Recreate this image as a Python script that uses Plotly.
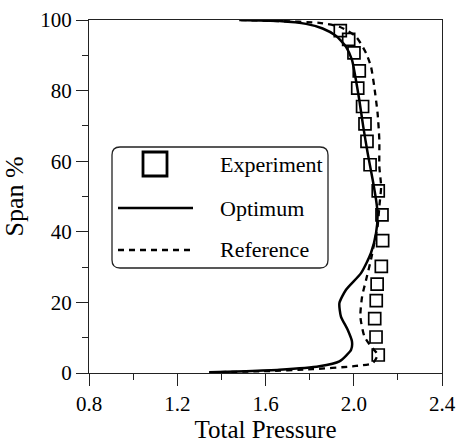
import plotly.graph_objects as go

# Experiment data (total pressure, span %)
exp_p = [1.939, 1.977, 2.001, 2.025, 2.018, 2.040, 2.051, 2.060, 2.074, 2.111,
         2.128, 2.131, 2.125, 2.106, 2.102, 2.095, 2.101, 2.111]
exp_span = [97.0, 94.5, 90.7, 85.6, 80.7, 75.5, 70.6, 65.6, 59.0, 51.6,
            44.8, 37.5, 30.2, 25.2, 20.5, 15.4, 10.2, 5.1]

# Optimum (solid)
opt_p = [1.345, 1.512, 1.663, 1.844, 1.935, 1.988, 1.992, 1.972, 1.942, 1.935,
         1.965, 2.033, 2.078, 2.101, 2.108, 2.101, 2.086, 2.063, 2.043, 2.025,
         2.007, 1.992, 1.965, 1.920, 1.859, 1.784, 1.663, 1.481]
opt_span = [0.2, 0.5, 0.9, 1.9, 3.3, 6.6, 8.9, 12.3, 16.0, 19.8,
            23.6, 28.3, 34.0, 39.6, 45.3, 49.1, 54.7, 62.3, 69.8, 77.4,
            84.0, 88.7, 92.4, 95.5, 97.6, 98.9, 99.7, 100.0]

# Reference (dashed)
ref_p = [1.345, 1.587, 1.814, 1.995, 2.086, 2.108, 2.078, 2.048, 2.030, 2.038,
         2.056, 2.078, 2.093, 2.108, 2.116, 2.124, 2.116, 2.116, 2.108, 2.093,
         2.078, 2.056, 2.010, 1.935, 1.844, 1.660, 1.490]
ref_span = [0.2, 0.5, 1.1, 1.9, 2.8, 5.2, 7.5, 10.4, 16.0, 21.7,
            26.4, 32.1, 36.8, 41.5, 47.2, 52.8, 58.5, 66.0, 73.6, 81.1,
            86.8, 90.6, 95.3, 98.1, 99.2, 99.7, 100.0]

x_ticks = [0.8, 1.2, 1.6, 2.0, 2.4]
y_ticks = [0, 20, 40, 60, 80, 100]
legend_labels = ["Experiment", "Optimum", "Reference"]

FONT = "'Liberation Serif', 'Times New Roman', serif"

fig = go.Figure()
fig.add_trace(go.Scatter(x=opt_p, y=opt_span, mode="lines", name="Optimum",
                         line=dict(color="black", width=2.5, shape="spline", smoothing=0.6),
                         showlegend=False))
fig.add_trace(go.Scatter(x=ref_p, y=ref_span, mode="lines", name="Reference",
                         line=dict(color="black", width=2.3, dash="6px,5px", shape="spline", smoothing=0.6),
                         showlegend=False))
fig.add_trace(go.Scatter(x=exp_p, y=exp_span, mode="markers", name="Experiment",
                         marker=dict(symbol="square-open", size=12, color="black",
                                     line=dict(width=1.7, color="black")),
                         showlegend=False))

# manual legend (rounded box), paper coordinates (plot area is square)
PW = 353.0
def px(xp):
    return (xp - 89) / PW
def py(yp):
    return (373 - yp) / PW

x0, x1, yt, yb = px(112), px(328), py(147), py(268)
r = 8 / PW
path = (f"M {x0 + r},{yt} L {x1 - r},{yt} Q {x1},{yt} {x1},{yt - r} "
        f"L {x1},{yb + r} Q {x1},{yb} {x1 - r},{yb} "
        f"L {x0 + r},{yb} Q {x0},{yb} {x0},{yb + r} "
        f"L {x0},{yt - r} Q {x0},{yt} {x0 + r},{yt} Z")
shapes = [
    dict(type="path", xref="paper", yref="paper", path=path,
         line=dict(color="#222", width=1.3), fillcolor="white", layer="above"),
    dict(type="rect", xref="paper", yref="paper",
         x0=px(143), x1=px(167), y0=py(176), y1=py(152),
         line=dict(color="black", width=2.8), layer="above"),
    dict(type="line", xref="paper", yref="paper",
         x0=px(118), x1=px(193), y0=py(208), y1=py(208),
         line=dict(color="black", width=2.5), layer="above"),
    dict(type="line", xref="paper", yref="paper",
         x0=px(118), x1=px(193), y0=py(250), y1=py(250),
         line=dict(color="black", width=2.3, dash="6px,5px"), layer="above"),
]
annotations = []
for lab, yc in zip(legend_labels, [164, 208, 250]):
    annotations.append(dict(text=lab, xref="paper", yref="paper", x=px(218), y=py(yc),
                            xanchor="left", yanchor="middle", showarrow=False,
                            font=dict(family=FONT, size=22, color="black")))

axis_common = dict(showline=True, mirror=True, linecolor="#222", linewidth=1.3,
                   ticks="outside", ticklen=12, tickwidth=1.3, tickcolor="#222",
                   showgrid=False, zeroline=False, automargin=False,
                   tickfont=dict(family=FONT, size=21, color="black"))

fig.update_layout(
    width=459, height=443,
    margin=dict(l=89, r=17, t=20, b=70),
    plot_bgcolor="white", paper_bgcolor="white",
    font=dict(family=FONT),
    shapes=shapes, annotations=annotations,
    xaxis=dict(range=[0.8, 2.4], tickvals=x_ticks,
               ticktext=[f"{v:.1f}" for v in x_ticks],
               minor=dict(dtick=0.2, tick0=0.8, ticklen=6, tickwidth=1.3, tickcolor="#222", ticks="outside"),
               title=dict(text="Total Pressure", font=dict(family=FONT, size=25, color="black"), standoff=4),
               **axis_common),
    yaxis=dict(range=[0, 100], tickvals=y_ticks,
               minor=dict(dtick=10, tick0=0, ticklen=6, tickwidth=1.3, tickcolor="#222", ticks="outside"),
               title=dict(text="Span %", font=dict(family=FONT, size=26, color="black"), standoff=10),
               **axis_common),
)

fig.write_html("out.html")
